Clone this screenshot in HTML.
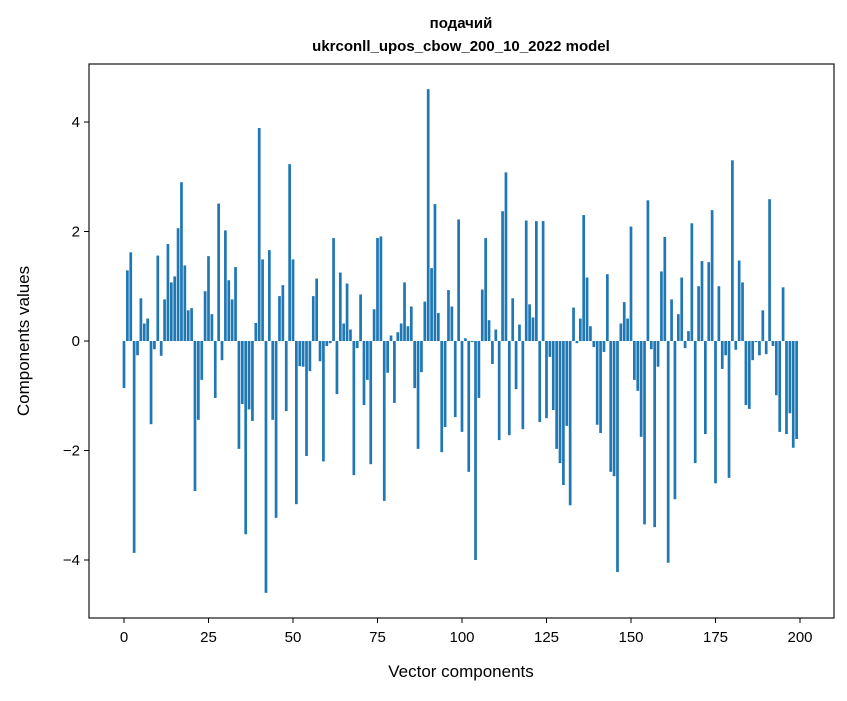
<!DOCTYPE html>
<html><head><meta charset="utf-8"><style>
body{margin:0;background:#fff}
svg text{font-family:"Liberation Sans","DejaVu Sans",sans-serif;fill:#000}
</style></head><body>
<svg id="chart" width="847" height="696">
<rect width="847" height="696" fill="#fff"/>
<text x="461" y="28" text-anchor="middle" font-size="15" font-weight="bold">подачий</text>
<text x="461" y="51" text-anchor="middle" font-size="15" font-weight="bold">ukrconll_upos_cbow_200_10_2022 model</text>
<g id="bars"></g>
<g id="axes"></g>
<text x="461" y="677" text-anchor="middle" font-size="17">Vector components</text>
<text transform="translate(29,341) rotate(-90)" text-anchor="middle" font-size="17">Components values</text>
</svg>
<script>
const values = [-0.86,1.29,1.62,-3.87,-0.26,0.78,0.32,0.41,-1.52,-0.15,1.56,-0.27,0.76,1.77,1.07,1.18,2.06,2.9,1.38,0.56,
0.6,-2.74,-1.44,-0.71,0.91,1.55,0.49,-1.04,2.51,-0.35,2.02,1.11,0.76,1.35,-1.97,-1.15,-3.53,-1.25,-1.46,0.33,
3.89,1.49,-4.6,1.66,-1.44,-3.23,0.82,1.02,-1.28,3.23,1.49,-2.98,-0.46,-0.47,-2.1,-0.55,0.82,1.14,-0.37,-2.2,
-0.09,-0.04,1.88,-0.97,1.25,0.32,1.05,0.21,-2.45,-0.13,0.85,-1.17,-0.71,-2.25,0.58,1.88,1.91,-2.92,-0.58,0.1,
-1.13,0.16,0.32,1.07,0.27,0.63,-0.86,-1.97,-0.57,0.72,4.6,1.33,2.5,0.51,-2.03,-1.57,0.93,0.63,-1.39,2.22,
-1.66,0.05,-2.39,-0.02,-4.0,-1.04,0.94,1.88,0.38,-0.42,0.21,-1.81,2.37,3.08,-1.72,0.78,-0.88,0.3,-1.61,2.2,
0.67,0.43,2.19,-1.48,2.19,-1.41,-0.29,-1.26,-1.97,-2.23,-2.63,-1.55,-3.0,0.61,-0.04,0.41,2.3,1.16,0.27,-0.11,
-1.53,-1.68,-0.2,1.22,-2.39,-2.47,-4.22,0.32,0.71,0.41,2.09,-0.71,-0.91,-1.75,-3.35,2.57,-0.15,-3.4,-0.47,1.27,
1.9,-4.05,0.76,-2.89,0.49,1.16,-0.13,0.18,2.15,-2.23,1.0,1.46,-1.7,1.44,2.39,-2.6,1.0,-0.51,-0.26,-2.5,
3.3,-0.16,1.47,1.07,-1.17,-1.24,-0.35,-0.02,-0.26,0.56,-0.24,2.59,-0.09,-0.99,-1.66,0.98,-1.7,-1.32,-1.95,-1.79];
const xTicks = [0,25,50,75,100,125,150,175,200];
const yTicks = [-4,-2,0,2,4];
const NS='http://www.w3.org/2000/svg';
const L=89,R=834,T=64,B=618;
const xs=v=>124+v*3.38;
const ys=v=>341-v*54.75;
const bars=document.getElementById('bars');
values.forEach((v,i)=>{
  const r=document.createElementNS(NS,'rect');
  const w=0.8*3.38;
  r.setAttribute('x',xs(i)-w/2);
  r.setAttribute('width',w);
  r.setAttribute('y',Math.min(ys(v),ys(0)));
  r.setAttribute('height',Math.abs(ys(v)-ys(0)));
  r.setAttribute('fill','#1f77b4');
  
  
  bars.appendChild(r);
});
const ax=document.getElementById('axes');
const frame=document.createElementNS(NS,'rect');
frame.setAttribute('x',L);frame.setAttribute('y',T);frame.setAttribute('width',R-L);frame.setAttribute('height',B-T);
frame.setAttribute('fill','none');frame.setAttribute('stroke','#000');frame.setAttribute('stroke-width','1.1');


ax.appendChild(frame);
xTicks.forEach(t=>{
  const l=document.createElementNS(NS,'line');
  l.setAttribute('x1',xs(t));l.setAttribute('x2',xs(t));l.setAttribute('y1',B);l.setAttribute('y2',B+5);l.setAttribute('stroke','#000');
  
  
  ax.appendChild(l);
  const tx=document.createElementNS(NS,'text');
  tx.setAttribute('x',xs(t));tx.setAttribute('y',B+24);tx.setAttribute('text-anchor','middle');tx.setAttribute('font-size','15');
  tx.textContent=t;
  
  
  ax.appendChild(tx);
});
yTicks.forEach(t=>{
  const l=document.createElementNS(NS,'line');
  l.setAttribute('x1',L-5);l.setAttribute('x2',L);l.setAttribute('y1',ys(t));l.setAttribute('y2',ys(t));l.setAttribute('stroke','#000');
  
  
  ax.appendChild(l);
  const tx=document.createElementNS(NS,'text');
  tx.setAttribute('x',L-9);tx.setAttribute('y',ys(t)+5);tx.setAttribute('text-anchor','end');tx.setAttribute('font-size','15');
  tx.textContent=t<0?'\u2212'+Math.abs(t):String(t);
  
  
  ax.appendChild(tx);
});
</script>
</body></html>
